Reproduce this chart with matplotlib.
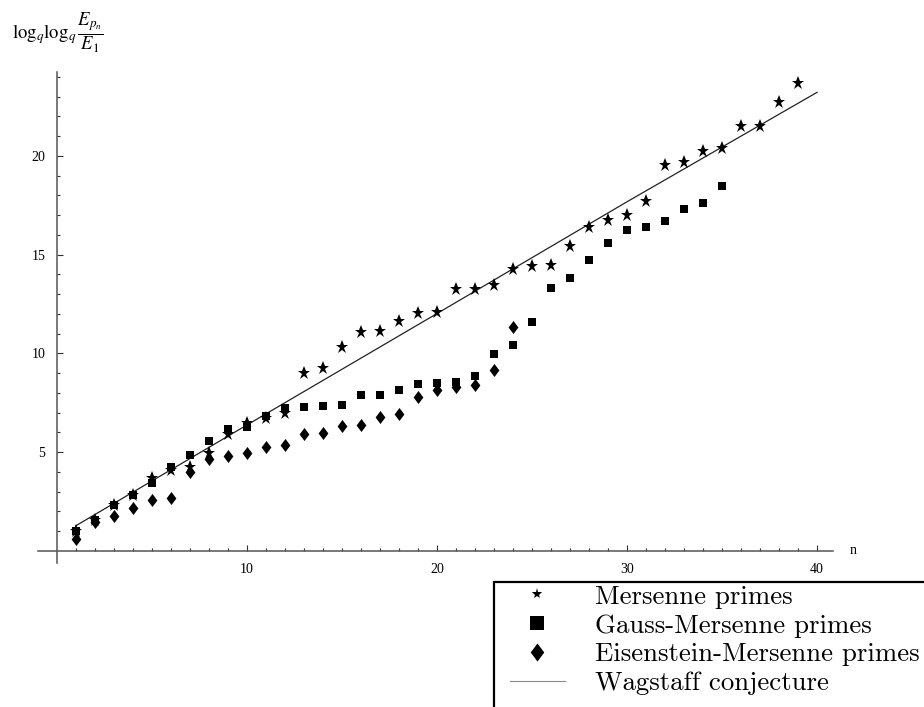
import matplotlib
matplotlib.use("Agg")
import matplotlib.pyplot as plt
from matplotlib.lines import Line2D
from matplotlib.patches import Rectangle
from matplotlib.ticker import FixedLocator

# valores (log_q log_q E_pn / E_1)
mersenne = [1.00, 1.58, 2.32, 2.81, 3.70, 4.09, 4.25, 4.95, 5.93, 6.48,
            6.74, 6.99, 9.03, 9.25, 10.32, 11.11, 11.16, 11.65, 12.05, 12.11,
            13.24, 13.28, 13.45, 14.28, 14.41, 14.50, 15.44, 16.40, 16.75, 17.01,
            17.72, 19.53, 19.71, 20.26, 20.42, 21.50, 21.53, 22.73, 23.68]
gauss = [1.00, 1.58, 2.32, 2.81, 3.46, 4.25, 4.86, 5.55, 6.19, 6.30,
         6.82, 7.24, 7.29, 7.35, 7.38, 7.90, 7.91, 8.14, 8.46, 8.52,
         8.57, 8.84, 9.96, 10.42, 11.57, 13.31, 13.84, 14.75, 15.59, 16.24,
         16.38, 16.70, 17.29, 17.64, 18.47]
eisenstein = [0.63, 1.46, 1.77, 2.18, 2.58, 2.68, 3.98, 4.64, 4.79, 4.98,
              5.24, 5.34, 5.91, 5.98, 6.33, 6.38, 6.80, 6.93, 7.78, 8.13,
              8.29, 8.42, 9.17, 11.33]
n_wagstaff = [1, 10, 20, 30, 40]
wagstaff = [1.28, 6.38, 12.02, 17.68, 23.22]

rotulos = ["Mersenne primes", "Gauss-Mersenne primes",
           "Eisenstein-Mersenne primes", "Wagstaff conjecture"]

n_mersenne = list(range(1, len(mersenne) + 1))
n_gauss = list(range(1, len(gauss) + 1))
n_eisenstein = list(range(1, len(eisenstein) + 1))

plt.rcParams['mathtext.fontset'] = 'stix'
serif = 'Liberation Serif'
losango = [(0, 1), (0.75, 0), (0, -1), (-0.75, 0), (0, 1)]

W, H = 924, 707
fig = plt.figure(figsize=(W / 100, H / 100), dpi=100)
ax = fig.add_axes([38 / W, (H - 563) / H, (833 - 38) / W, (563 - 72) / H])

ax.plot(n_wagstaff, wagstaff, color='#222222', lw=0.9)
ax.plot(n_mersenne, mersenne, ls='none', marker='*', ms=9.8, color='k', mew=0)
ax.plot(n_gauss, gauss, ls='none', marker='s', ms=6.2, color='k', mew=0)
ax.plot(n_eisenstein, eisenstein, ls='none', marker=losango, ms=9.4, color='k', mew=0)

ax.set_xlim(-1.0, 40.84)
ax.set_ylim(-0.61, 24.25)

# eixos passando pela origem, estilo Mathematica
for lado in ['top', 'right']:
    ax.spines[lado].set_visible(False)
for lado in ['left', 'bottom']:
    ax.spines[lado].set_position(('data', 0))
    ax.spines[lado].set_color('#555555')
    ax.spines[lado].set_linewidth(1.1)

ax.xaxis.set_major_locator(FixedLocator([10, 20, 30, 40]))
ax.xaxis.set_minor_locator(FixedLocator([i for i in range(1, 41) if i % 10]))
ax.yaxis.set_major_locator(FixedLocator([5, 10, 15, 20]))
ax.yaxis.set_minor_locator(FixedLocator([i for i in range(1, 25) if i % 5]))
ax.tick_params(which='major', direction='in', length=4.3, width=0.8,
               color='#333333', pad=8.5, labelsize=10)
ax.tick_params(which='minor', direction='in', length=2.4, width=0.8,
               color='#333333')
for rotulo in ax.get_xticklabels() + ax.get_yticklabels():
    rotulo.set_fontfamily(serif)

fig.text(850 / W, 1 - 551 / H, "n", fontsize=10, family=serif, va='center')
fig.text(12 / W, 1 - 33 / H,
         r'$\mathrm{log}_q\mathrm{log}_q\,\dfrac{E_{p_n}}{E_1}$',
         fontsize=13.5, va='center')

# legenda
alcas = [
    Line2D([], [], ls='none', marker='*', ms=8, color='k', mew=0),
    Line2D([], [], ls='none', marker='s', ms=10, color='k', mew=0),
    Line2D([], [], ls='none', marker=losango, ms=13, color='k', mew=0),
    Line2D([], [], color='#888888', lw=0.8),
]
fig.legend(alcas, rotulos, loc='upper left', bbox_to_anchor=(510 / W, 1 - 585 / H),
           frameon=False, borderaxespad=0, borderpad=0,
           prop={'family': 'cmr10', 'size': 19.3},
           handlelength=2.05, handletextpad=1.12, labelspacing=0.19)
fig.patches.append(Rectangle((494 / W, 1 - 720 / H), (940 - 494) / W, (720 - 582) / H,
                             transform=fig.transFigure, fill=False,
                             edgecolor='k', lw=1.6, clip_on=False))

fig.savefig("out.png", dpi=100)
